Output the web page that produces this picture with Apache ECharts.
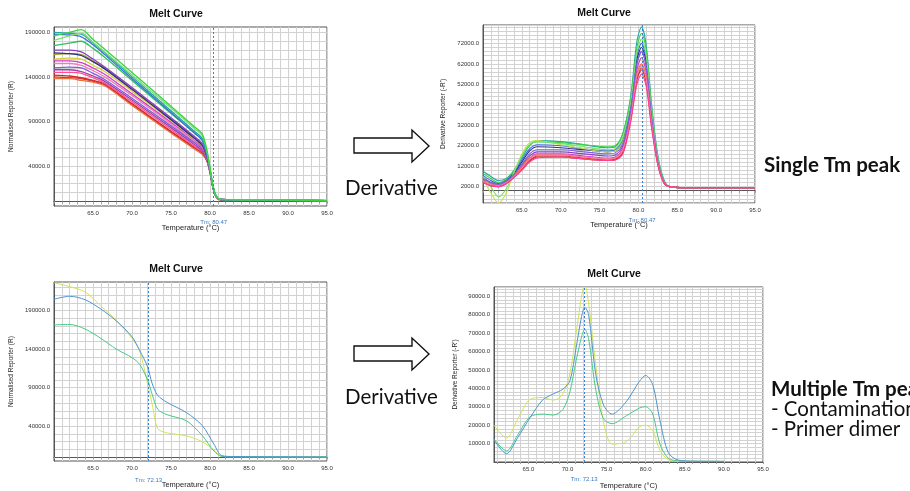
<!DOCTYPE html>
<html>
<head>
<meta charset="utf-8">
<script src="https://cdn.jsdelivr.net/npm/echarts@6/dist/echarts.min.js"></script>
<style>
html, body { margin: 0; padding: 0; background: #fff; }
#chart { width: 910px; height: 491px; }
</style>
</head>
<body>
<div id="chart"></div>
<script>
// ---- top left: normalised reporter, single product ----
var tempsSingleRaw = [60, 62, 63.5, 65, 66.5, 70, 75, 78, 79, 79.6, 80, 80.4, 80.8, 81.3, 88, 95];
var singleRaw01 = [186000, 190000, 193000, 182000, 171000, 145000, 107000, 84000, 76000, 58000, 38000, 17000, 6000, 2500, 1800, 1200];
var singleRaw02 = [181000, 186000, 189000, 179000, 168000, 142000, 105000, 82000, 74000, 57000, 37000, 16500, 6000, 2500, 1800, 1200];
var singleRaw03 = [190000, 189000, 188000, 178000, 167000, 140000, 102000, 79000, 71000, 55000, 36500, 16500, 6000, 2400, 1700, 1100];
var singleRaw04 = [188000, 187000, 185000, 176000, 165000, 138000, 100000, 77000, 69000, 54000, 36000, 16000, 5800, 2400, 1700, 1100];
var singleRaw05 = [175000, 178000, 180000, 172000, 162000, 136000, 99000, 77000, 69000, 54000, 36000, 16000, 5800, 2400, 1700, 1100];
var singleRaw06 = [170000, 170000, 168000, 160000, 151000, 128000, 94000, 73000, 65000, 51000, 35000, 15500, 5600, 2300, 1600, 1000];
var singleRaw07 = [167000, 166000, 164000, 157000, 149000, 126000, 92000, 71000, 63000, 50000, 34500, 15500, 5600, 2300, 1600, 1000];
var singleRaw08 = [165000, 166000, 165000, 158000, 150000, 127000, 93000, 72000, 64000, 50500, 34500, 15500, 5600, 2300, 1600, 1000];
var singleRaw09 = [160000, 161000, 160000, 153000, 146000, 124000, 91000, 70000, 62000, 49500, 34000, 15000, 5500, 2300, 1600, 1000];
var singleRaw10 = [158000, 158000, 156000, 150000, 143000, 121000, 89000, 69000, 61000, 49000, 34000, 15000, 5500, 2300, 1600, 1000];
var singleRaw11 = [150000, 151000, 150000, 144000, 137000, 116000, 85000, 66000, 59000, 48000, 33500, 15000, 5400, 2200, 1500, 900];
var singleRaw12 = [155000, 155000, 153000, 147000, 140000, 119000, 87000, 67000, 60000, 48500, 33500, 15000, 5400, 2200, 1500, 900];
var singleRaw13 = [148000, 148000, 146000, 141000, 135000, 114000, 83000, 64000, 57000, 47000, 33000, 14800, 5300, 2200, 1500, 900];
var singleRaw14 = [145000, 145000, 144000, 139000, 133000, 112000, 81000, 62000, 56000, 46500, 33000, 14800, 5300, 2200, 1500, 900];
var singleRaw15 = [142000, 141000, 139000, 136000, 132000, 110000, 79000, 61000, 55000, 46000, 33000, 14800, 5300, 2100, 1400, 800];
var singleRaw16 = [138000, 138000, 136000, 134000, 130000, 108000, 77000, 59000, 53000, 45500, 32500, 14500, 5200, 2100, 1400, 800];
var singleRaw17 = [140000, 139000, 138000, 135000, 131000, 109000, 78000, 60000, 54000, 46000, 33000, 14800, 5300, 2100, 1400, 800];

// ---- top right: derivative, single product ----
var tempsSingleDeriv = [60, 61, 62, 63, 64, 65, 66, 67, 70, 73, 76, 77, 78, 79, 79.8, 80.4, 81, 81.7, 82.5, 83.3, 84, 86, 95];
var singleDeriv01 = [9500, 7000, 5000, 6000, 10000, 16000, 22000, 24500, 24000, 22500, 21000, 21500, 28000, 46000, 73000, 80000, 71000, 42000, 17000, 5000, 2000, 1500, 1500];
var singleDeriv02 = [8500, 6000, 4000, 5500, 10000, 17000, 22500, 24000, 23500, 22500, 21500, 22000, 28000, 45000, 70000, 77000, 69000, 40500, 16500, 5000, 2000, 1500, 1500];
var singleDeriv03 = [7500, 5000, 3500, 5000, 9000, 15000, 20500, 22500, 22000, 20500, 19500, 20000, 25000, 42000, 66000, 72000, 64000, 38000, 15500, 4500, 2000, 1500, 1500];
var singleDeriv04 = [6500, 4000, 3000, 4500, 8500, 14000, 19500, 21500, 21000, 20000, 19000, 19500, 24000, 40500, 64000, 70000, 62500, 37000, 15000, 4500, 2000, 1500, 1500];
var singleDeriv05 = [6000, -1000, -6000, -1000, 9000, 18000, 23500, 24500, 22500, 20500, 19000, 19500, 24000, 38000, 59000, 65000, 58000, 34500, 14000, 4000, 2000, 1500, 1500];
var singleDeriv06 = [5500, 3500, 2500, 4000, 7500, 12500, 17000, 19000, 19000, 18000, 17000, 17500, 22000, 39500, 62000, 68000, 61000, 36000, 14500, 4200, 2000, 1500, 1500];
var singleDeriv07 = [5000, 3000, 2000, 3500, 7000, 11500, 16000, 18000, 18000, 17000, 16000, 16500, 21000, 38000, 59000, 65000, 58000, 34500, 14000, 4000, 2000, 1500, 1500];
var singleDeriv08 = [4500, 3000, 2500, 4000, 7000, 11000, 15000, 17000, 17000, 16000, 15000, 15500, 19000, 35000, 55000, 60000, 54000, 32000, 13000, 3800, 2000, 1500, 1500];
var singleDeriv09 = [5000, 3500, 3000, 4500, 7500, 12000, 16000, 17500, 17500, 16500, 15500, 16000, 20000, 36000, 57000, 62000, 55500, 33000, 13500, 3900, 2000, 1500, 1500];
var singleDeriv10 = [7000, 2000, -3000, 1000, 9000, 17000, 22500, 24000, 23000, 21500, 20000, 20500, 26000, 43000, 67500, 74000, 66000, 39000, 16000, 4700, 2000, 1500, 1500];
var singleDeriv11 = [6000, 4000, 3000, 4500, 8000, 13000, 18000, 20000, 20000, 19000, 18000, 18500, 23000, 39500, 62000, 68000, 61000, 36000, 14500, 4200, 2000, 1500, 1500];
var singleDeriv12 = [4000, 2500, 2000, 3500, 6500, 10500, 14500, 16500, 16500, 15500, 14800, 15200, 18500, 34500, 54000, 59000, 53000, 31500, 13000, 3700, 2000, 1500, 1500];
var singleDeriv13 = [4500, 3000, 2500, 4000, 7000, 11000, 15500, 17500, 17500, 16500, 15500, 16000, 20000, 35500, 56000, 61000, 54500, 32500, 13000, 3800, 2000, 1500, 1500];
var singleDeriv14 = [4000, 2500, 2000, 3500, 6500, 10000, 14000, 16000, 16500, 15500, 14800, 15000, 18000, 33500, 52000, 57000, 51000, 30500, 12500, 3600, 2000, 1500, 1500];

var singleColors = ['#e03434', '#e8743a', '#d42a2a', '#ff4f96', '#a8409f', '#f27bb2', '#7b5fe3', '#d23ccb',
  '#d6cf3c', '#a0a030', '#2e2e8c', '#8b3fc0', '#2fbf5f', '#3a6fd8', '#22a6a6', '#74e374', '#3fd23f'];
var derivColors = ['#22a6a6', '#3fd23f', '#3a6fd8', '#2e2e8c', '#c9e04a', '#8b3fc0', '#d23ccb', '#e03434',
  '#e8743a', '#74e374', '#7b5fe3', '#d42a2a', '#f27bb2', '#ff3f8f'];

// ---- bottom left: normalised reporter, mixed products ----
var tempsMixRaw = [60, 62, 64, 66, 68, 70, 71, 72, 72.6, 73.3, 74.5, 77, 79, 80.5, 81.5, 83, 95];
var mixRawYellow = [226000, 221000, 214000, 196000, 177000, 154000, 137000, 95000, 68000, 37000, 31500, 27500, 20000, 9000, 1000, 500, 300];
var mixRawBlue = [204600, 208500, 204000, 192000, 176500, 156000, 138000, 117000, 95000, 80000, 71000, 57600, 41000, 17000, 2000, 800, 300];
var mixRawGreen = [171400, 172000, 166000, 154000, 140000, 129000, 120000, 100000, 81000, 62000, 55000, 47000, 28000, 8000, 1000, 600, 300];

// ---- bottom right: derivative, mixed products ----
var tempsMixDeriv = [60.6, 62.2, 63.6, 65.2, 66.8, 68.2, 69.4, 70.3, 71.1, 71.8, 72.2, 72.7, 73.6, 74.6, 75.7, 77.5, 79.2, 80, 80.9, 81.8, 82.9, 84.2, 86, 90];
var mixDerivYellow = [20000, 13000, 23000, 34000, 35000, 33600, 37000, 48000, 70000, 90000, 97000, 86000, 53000, 22000, 9700, 11000, 19000, 20000, 17000, 6500, 1200, 400, 300, 300];
var mixDerivBlue = [12000, 4500, 13000, 24000, 33600, 37000, 39500, 44000, 62000, 79000, 84000, 80000, 48000, 31000, 26000, 32700, 43800, 47000, 42000, 23000, 5000, 1000, 500, 400];
var mixDerivGreen = [12500, 6000, 14500, 24500, 26000, 25500, 28500, 38000, 55000, 68000, 72000, 67000, 39500, 23500, 20800, 25000, 29300, 30000, 26000, 10000, 2000, 600, 400, 300];
var mixColors = { yellow: '#d3e25a', blue: '#4f94cd', green: '#46c98a' };

// grid / tick values
var rawGridValues = [0, 10000, 20000, 30000, 40000, 50000, 60000, 70000, 80000, 90000, 100000, 110000,
  120000, 130000, 140000, 150000, 160000, 170000, 180000, 190000, 200000, 210000, 220000];
var rawTickLabels = [40000, 90000, 140000, 190000];
var mixTempGrid = [61, 62, 63, 64, 65, 66, 67, 68, 69, 70, 71, 72, 73, 74, 75, 76, 77, 78,
  79, 80, 81, 82, 83, 84, 85, 86, 87, 88, 89, 90, 91, 92, 93, 94, 95];
var tempTickLabels = [65, 70, 75, 80, 85, 90, 95];

var tmSingle = 80.47;
var tmMix = 72.13;

var axisFont = 'Liberation Sans, Arial, sans-serif';
var gridColor = '#d2d2d2';

function tempAxis(g, nameGap, min, grid) {
  var ax = {
    type: 'value', gridIndex: g, min: min, max: 95, interval: 1,
    name: 'Temperature (°C)', nameLocation: 'middle', nameGap: nameGap,
    nameTextStyle: { fontSize: 7.5, color: '#222', fontFamily: axisFont },
    axisLine: { show: true, lineStyle: { color: '#555' } },
    axisTick: { show: true, length: 2, lineStyle: { color: '#999' } },
    axisLabel: {
      fontSize: 6, color: '#333', margin: 4, fontFamily: axisFont,
      formatter: function (v) { return (Math.abs(v % 5) < 1e-6 && v > 60.5) ? v.toFixed(1) : ''; }
    },
    splitLine: { show: true, lineStyle: { color: gridColor, width: 1 } }
  };
  if (grid) {
    ax.axisTick.customValues = grid;
    ax.axisLabel.customValues = tempTickLabels;
  }
  return ax;
}

function valueAxis(g, name, min, max, step, labelFrom, labelStep, nameGap) {
  return {
    type: 'value', gridIndex: g, min: min, max: max, interval: step,
    name: name, nameLocation: 'middle', nameGap: nameGap,
    nameTextStyle: { fontSize: 6.5, color: '#222', fontFamily: axisFont },
    axisLine: { show: true, lineStyle: { color: '#555' } },
    axisTick: { show: false },
    axisLabel: {
      fontSize: 6, color: '#333', margin: 4, fontFamily: axisFont,
      formatter: function (v) {
        var d = v - labelFrom;
        return (v > 0 && Math.abs(d % labelStep) < 1e-6) ? v.toFixed(1) : '';
      }
    },
    splitLine: { show: true, lineStyle: { color: gridColor, width: 1 } }
  };
}

// raw reporter axes: frame sits a little below zero, grid every 10000
function rawAxis(g, max) {
  return {
    type: 'value', gridIndex: g, min: -5000, max: max,
    name: 'Normalised Reporter (R)', nameLocation: 'middle', nameGap: 39,
    nameTextStyle: { fontSize: 6.5, color: '#222', fontFamily: axisFont },
    axisLine: { show: true, lineStyle: { color: '#555' } },
    axisTick: { show: false, customValues: rawGridValues.filter(function (v) { return v < max; }) },
    axisLabel: {
      fontSize: 6, color: '#333', margin: 4, fontFamily: axisFont, customValues: rawTickLabels,
      formatter: function (v) { return v.toFixed(1); }
    },
    splitLine: { show: true, lineStyle: { color: gridColor, width: 1 } }
  };
}

function curve(g, temps, vals, color, width) {
  return {
    type: 'line', xAxisIndex: g, yAxisIndex: g, silent: true,
    data: temps.map(function (t, i) { return [t, vals[i]]; }),
    showSymbol: false, smooth: 0.3,
    lineStyle: { color: color, width: width }, itemStyle: { color: color }
  };
}

function tmLine(value, dist) {
  return {
    silent: true, symbol: ['none', 'none'],
    lineStyle: { color: '#3b7dd0', type: [2, 2], width: 1 },
    label: { show: true, position: 'start', distance: dist, formatter: 'Tm: ' + value.toFixed(2), color: '#3a78c0', fontSize: 6, fontFamily: axisFont },
    data: [{ xAxis: value }]
  };
}

var singleRaw = [singleRaw17, singleRaw16, singleRaw15, singleRaw14, singleRaw13, singleRaw12, singleRaw11, singleRaw10,
  singleRaw09, singleRaw08, singleRaw07, singleRaw06, singleRaw05, singleRaw04, singleRaw03, singleRaw02, singleRaw01];
var singleDeriv = [singleDeriv01, singleDeriv02, singleDeriv03, singleDeriv04, singleDeriv05, singleDeriv06, singleDeriv07,
  singleDeriv08, singleDeriv09, singleDeriv10, singleDeriv11, singleDeriv12, singleDeriv13, singleDeriv14];

var series = [];
singleRaw.forEach(function (vals, i) { series.push(curve(0, tempsSingleRaw, vals, singleColors[i], 1.3)); });
series[series.length - 1].markLine = tmLine(tmSingle, 13);
singleDeriv.forEach(function (vals, i) { series.push(curve(1, tempsSingleDeriv, vals, derivColors[i], 1.1)); });
series[series.length - 1].markLine = tmLine(tmSingle, 14);
series.push(curve(2, tempsMixRaw, mixRawYellow, mixColors.yellow, 1));
series.push(curve(2, tempsMixRaw, mixRawGreen, mixColors.green, 1));
series.push(curve(2, tempsMixRaw, mixRawBlue, mixColors.blue, 1));
series[series.length - 1].markLine = tmLine(tmMix, 16);
series.push(curve(3, tempsMixDeriv, mixDerivYellow, mixColors.yellow, 1));
series.push(curve(3, tempsMixDeriv, mixDerivGreen, mixColors.green, 1));
series.push(curve(3, tempsMixDeriv, mixDerivBlue, mixColors.blue, 1));
series[series.length - 1].markLine = tmLine(tmMix, 14);

function arrow(cy) {
  return {
    type: 'polygon', silent: true,
    shape: { points: [[354, cy - 8], [412, cy - 8], [412, cy - 16], [429, cy], [412, cy + 16], [412, cy + 7], [354, cy + 7]] },
    style: { fill: '#fff', stroke: '#111', lineWidth: 1.4 }
  };
}

function label(x, y, text, font, align) {
  return { type: 'text', x: x, y: y, silent: true, style: { text: text, font: font, fill: '#111', align: align || 'left', verticalAlign: 'middle' } };
}

var titleFont = 'bold 10.5px Liberation Sans, Arial, sans-serif';
var noteFont = '20.5px Lato, "Open Sans", sans-serif';
var noteBold = 'bold 20.5px Lato, "Open Sans", sans-serif';

var option = {
  animation: false,
  backgroundColor: '#fff',
  grid: [
    { left: 54, top: 27, width: 273, height: 179, show: true, borderColor: '#555', borderWidth: 1 },
    { left: 483, top: 25, width: 272, height: 178, show: true, borderColor: '#555', borderWidth: 1 },
    { left: 54, top: 282, width: 273, height: 179, show: true, borderColor: '#555', borderWidth: 1 },
    { left: 494, top: 287, width: 269, height: 177, show: true, borderColor: '#555', borderWidth: 1 }
  ],
  xAxis: [tempAxis(0, 18, 60), tempAxis(1, 18, 60), tempAxis(2, 20, 60), tempAxis(3, 20, 60.6, mixTempGrid)],
  yAxis: [
    rawAxis(0, 196000),
    valueAxis(1, "Derivative Reporter (-R')", -6000, 81000, 2000, 2000, 10000, 36),
    rawAxis(2, 227000),
    valueAxis(3, "Derivative Reporter (-R')", 0, 95000, 2000, 0, 10000, 35)
  ],
  series: series,
  graphic: [
    label(176, 14, 'Melt Curve', titleFont, 'center'),
    label(604, 13, 'Melt Curve', titleFont, 'center'),
    label(176, 269, 'Melt Curve', titleFont, 'center'),
    label(614, 274, 'Melt Curve', titleFont, 'center'),
    arrow(146),
    arrow(354),
    label(345, 188, 'Derivative', noteFont),
    label(345, 397, 'Derivative', noteFont),
    label(764, 165, 'Single Tm peak', noteBold),
    label(771, 389, 'Multiple Tm peaks', noteBold),
    label(771, 409, '- Contamination', noteFont),
    label(771, 429, '- Primer dimer', noteFont)
  ]
};

var chart = echarts.init(document.getElementById('chart'));
chart.setOption(option);
</script>
</body>
</html>
